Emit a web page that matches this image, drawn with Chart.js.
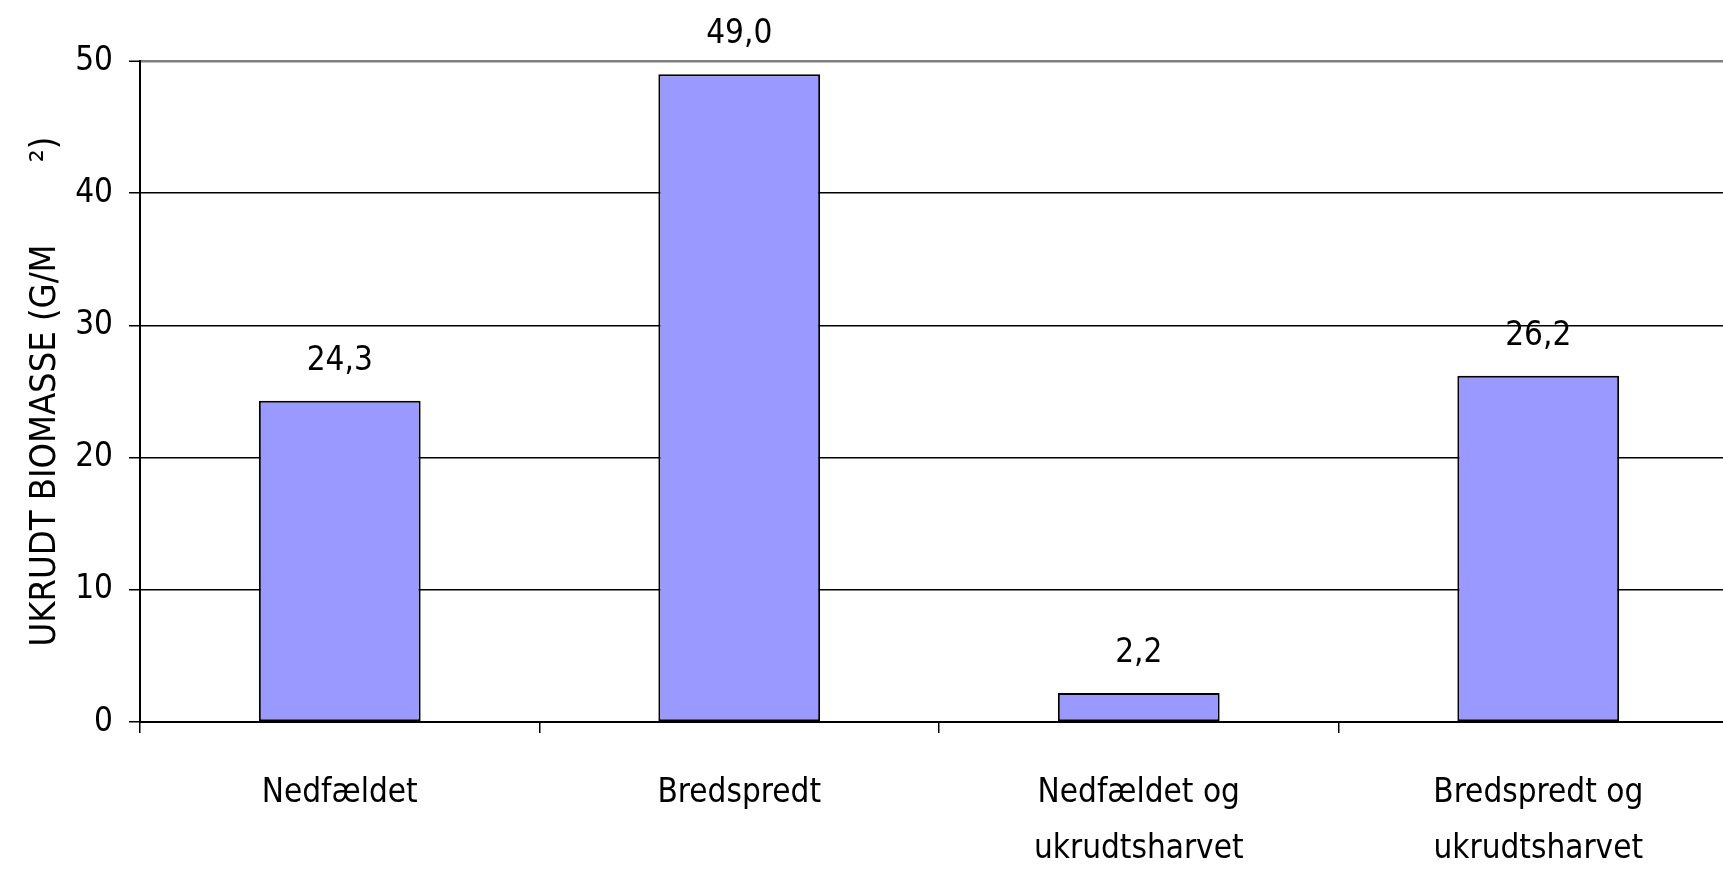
<!DOCTYPE html>
<html>
<head>
<meta charset="utf-8">
<script src="https://cdn.jsdelivr.net/npm/chart.js@4/dist/chart.umd.min.js"></script>
<style>
  html, body { margin: 0; padding: 0; background: #fff; overflow: hidden; width: 1723px; height: 871px; }
  canvas { display: block; }
</style>
</head>
<body>
<canvas id="c" width="1738" height="871"></canvas>
<script>
const categories = [
  ['Nedfældet'],
  ['Bredspredt'],
  ['Nedfældet og', 'ukrudtsharvet'],
  ['Bredspredt og', 'ukrudtsharvet']
];
const biomass = [24.3, 49.0, 2.2, 26.2];
const yTicks = [0, 10, 20, 30, 40, 50];
const yTitle = 'UKRUDT BIOMASSE (G/M        \u00B2)';

const FAMILY = '"DejaVu Sans Condensed", "DejaVu Sans", sans-serif';
const fmt = v => v.toFixed(1).replace('.', ',');

const valueLabels = {
  id: 'valueLabels',
  afterDatasetsDraw(chart) {
    const ctx = chart.ctx;
    const meta = chart.getDatasetMeta(0);
    ctx.save();
    ctx.font = '33px ' + FAMILY;
    ctx.fillStyle = '#000';
    ctx.textAlign = 'center';
    ctx.textBaseline = 'alphabetic';
    meta.data.forEach((bar, i) => {
      ctx.fillText(fmt(biomass[i]), bar.x, bar.y - 31);
    });
    ctx.restore();
  }
};

new Chart(document.getElementById('c'), {
  type: 'bar',
  data: {
    labels: categories,
    datasets: [{
      data: biomass,
      backgroundColor: '#9999ff',
      borderColor: '#000',
      borderWidth: 2,
      borderSkipped: false,
      barPercentage: 0.405,
      categoryPercentage: 1.0
    }]
  },
  options: {
    responsive: false,
    animation: false,
    devicePixelRatio: 1,
    layout: { padding: { top: 61, left: 0, right: 0, bottom: 0 } },
    plugins: { legend: { display: false }, tooltip: { enabled: false } },
    scales: {
      x: {
        afterFit(scale) { scale.height = 149; },
        grid: {
          display: true,
          offset: true,
          drawOnChartArea: false,
          drawTicks: true,
          tickLength: 11,
          color: '#000',
          lineWidth: 1.5
        },
        border: { display: true, color: '#000', width: 2 },
        ticks: {
          color: '#000',
          font: { family: FAMILY, size: 33, lineHeight: 1.7 },
          padding: 32,
          maxRotation: 0,
          autoSkip: false
        }
      },
      y: {
        min: 0,
        max: 50,
        afterFit(scale) { scale.width = 140; },
        afterBuildTicks(scale) { scale.ticks = yTicks.map(v => ({ value: v })); },
        grid: {
          drawTicks: true,
          tickLength: 11,
          color: ctx => (ctx.tick && ctx.tick.value === 50) ? '#808080' : '#000',
          lineWidth: ctx => (ctx.tick && ctx.tick.value === 50) ? 2.5 : 1.5,
          tickColor: '#000',
          tickWidth: 1.5
        },
        border: { display: true, color: '#000', width: 2 },
        ticks: {
          color: '#000',
          font: { family: FAMILY, size: 33 },
          padding: 16
        },
        title: {
          display: true,
          text: yTitle,
          color: '#000',
          font: { family: FAMILY, size: 36 },
          padding: { top: 24, bottom: 0 }
        }
      }
    }
  },
  plugins: [valueLabels]
});
</script>
</body>
</html>
